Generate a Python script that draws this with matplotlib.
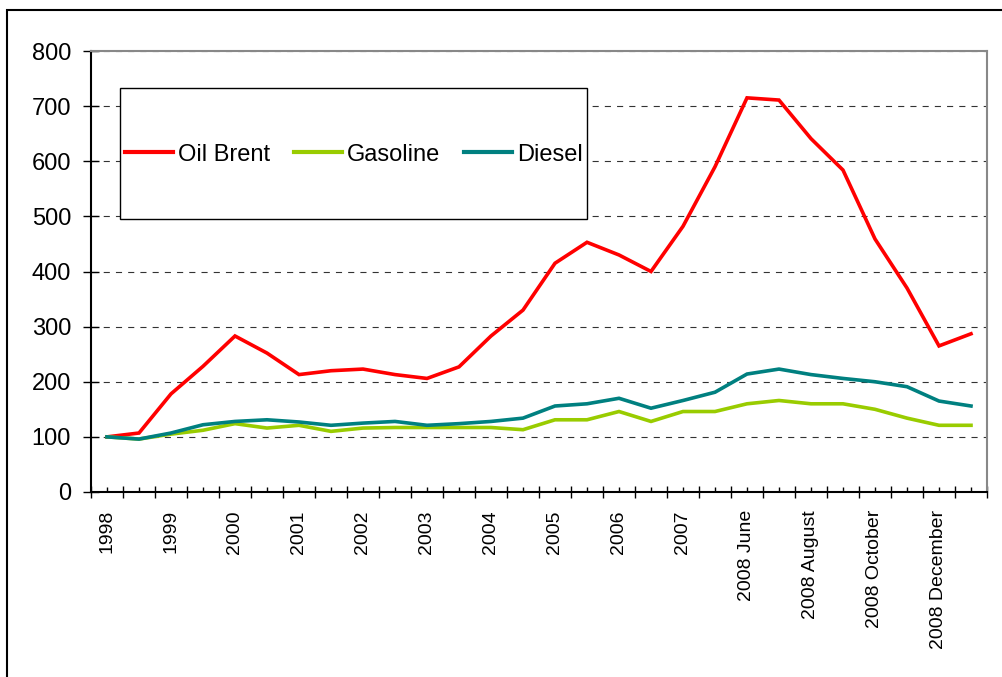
import matplotlib
matplotlib.use('Agg')
import matplotlib.pyplot as plt
from matplotlib.patches import Rectangle

plt.rcParams['font.family'] = ['Liberation Sans', 'DejaVu Sans']

# categories (every second one carries a label)
categories = ['1998', '', '1999', '', '2000', '', '2001', '', '2002', '',
              '2003', '', '2004', '', '2005', '', '2006', '', '2007', '',
              '2008 June', '', '2008 August', '', '2008 October', '',
              '2008 December', '']

oil_brent = [100, 107, 178, 228, 283, 252, 213, 220, 223, 213,
             206, 227, 283, 330, 415, 453, 430, 400, 482, 590,
             715, 711, 641, 584, 459, 370, 265, 287]
gasoline = [100, 96, 105, 112, 124, 116, 121, 110, 116, 117,
            117, 117, 117, 113, 131, 131, 146, 128, 146, 146,
            160, 166, 160, 160, 150, 134, 121, 121]
diesel = [100, 96, 107, 122, 128, 131, 127, 121, 125, 128,
          121, 124, 128, 134, 156, 160, 170, 152, 166, 181,
          214, 223, 213, 206, 200, 191, 165, 156]

series_names = ['Oil Brent', 'Gasoline', 'Diesel']
series_colors = ['#FF0000', '#99CC00', '#008080']

W, H = 1002, 677
fig = plt.figure(figsize=(W / 100, H / 100), dpi=100)
ax = fig.add_axes([91 / W, (H - 492) / H, (987 - 91) / W, (492 - 51) / H])

x = list(range(len(categories)))
for vals, name, col in zip([oil_brent, gasoline, diesel], series_names, series_colors):
    ax.plot(x, vals, color=col, linewidth=2.6, label=name,
            solid_joinstyle='miter', zorder=3)

ax.set_xlim(-0.5, len(categories) - 0.5)
ax.set_ylim(0, 800)
ax.set_yticks(range(0, 801, 100))

# major ticks between categories, labelled minor ticks at category centres
ax.set_xticks([i - 0.5 for i in range(len(categories) + 1)])
ax.set_xticklabels([])
ax.set_xticks(x, categories, minor=True, rotation=90)
ax.tick_params(axis='x', which='major', direction='inout', length=8, width=1)
ax.tick_params(axis='x', which='minor', direction='in', length=3.6, width=1,
               pad=13, labelsize=14)
ax.tick_params(axis='y', direction='inout', length=11.5, width=1, pad=8.6,
               labelsize=17)

ax.yaxis.grid(True, linestyle=(0, (5.5, 5.5)), color='#333333', linewidth=0.8)
ax.set_axisbelow(True)

for side in ['left', 'bottom']:
    ax.spines[side].set_color('black')
    ax.spines[side].set_linewidth(1.5)
for side in ['top', 'right']:
    ax.spines[side].set_color('#888888')
    ax.spines[side].set_linewidth(1.5)

# legend box
box = Rectangle((0.0324, 0.619), 0.5212, 0.297, transform=ax.transAxes,
                facecolor='white', edgecolor='black', linewidth=1, zorder=4)
ax.add_patch(box)
leg = ax.legend(loc='center', bbox_to_anchor=(0.293, 0.765), ncol=3,
                frameon=False, fontsize=17, handlelength=2.05,
                handletextpad=0.2, columnspacing=1.0)
leg.set_zorder(5)
for line in leg.get_lines():
    line.set_linewidth(3)

# outer chart border (top and left only visible)
fig.patches.append(Rectangle((7 / W, -0.2), 1.2, (H - 10) / H + 0.2,
                             transform=fig.transFigure, fill=False,
                             edgecolor='black', linewidth=1.5))

fig.savefig('out.png', dpi=100)
